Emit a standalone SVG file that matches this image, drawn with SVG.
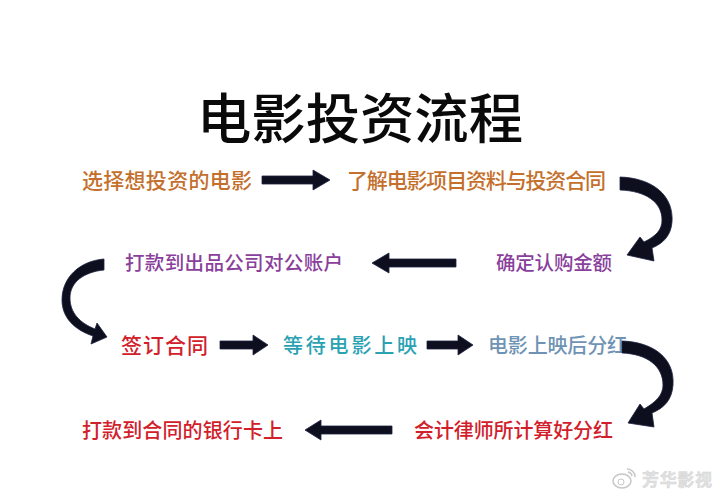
<svg xmlns="http://www.w3.org/2000/svg" width="728" height="503" viewBox="0 0 728 503">
<style>
.t{font-family:"Noto Sans CJK SC","Noto Sans CJK JP",sans-serif;font-weight:500}
.title{font-family:"Noto Sans CJK SC","Noto Sans CJK JP",sans-serif;font-weight:500;font-size:54px;fill:#0a0a0a}
.arr{fill:#0e0f1e;stroke:#1c2240;stroke-width:0.8}
.o{fill:#c46f2c}.p{fill:#8a3f9c}.r{fill:#d2202b}.c{fill:#2aa2b4}.b{fill:#6f93b4}
</style>
<rect width="728" height="503" fill="#ffffff"/>
<text class="title" x="197" y="139" textLength="326" lengthAdjust="spacingAndGlyphs">电影投资流程</text>
<g id="n1"><text class="t o" x="82" y="188" font-size="21" textLength="170">选择想投资的电影</text></g>
<g id="n2"><text class="t o" x="347" y="188" font-size="21" textLength="259">了解电影项目资料与投资合同</text></g>
<g id="n3"><text class="t p" x="496" y="270" font-size="19.5" textLength="116">确定认购金额</text></g>
<g id="n4"><text class="t p" x="125" y="270" font-size="19.5" textLength="218">打款到出品公司对公账户</text></g>
<g id="n5"><text class="t r" x="121" y="353" font-size="21" textLength="87">签订合同</text></g>
<g id="n6"><text class="t c" x="283" y="353" font-size="20" textLength="134">等待电影上映</text></g>
<g id="n7"><text class="t b" x="488" y="353" font-size="20" textLength="139">电影上映后分红</text></g>
<g id="n8"><text class="t r" x="414" y="438" font-size="20" textLength="199">会计律师所计算好分红</text></g>
<g id="n9"><text class="t r" x="82" y="438" font-size="20" textLength="201">打款到合同的银行卡上</text></g>
<g id="connectors">
<path class="arr" d="M262,176 L313,176 L313,170 L330,180 L313,190 L313,184 L262,184 Z"/>
<path class="arr" d="M456,259 L389,259 L389,253 L372,263 L389,273 L389,267 L456,267 Z"/>
<path class="arr" d="M220,341 L253,341 L253,335 L268,345 L253,355 L253,349 L220,349 Z"/>
<path class="arr" d="M427,341 L458,341 L458,335 L473,345 L458,355 L458,349 L427,349 Z"/>
<path class="arr" d="M392,426 L321,426 L321,420 L305,430 L321,440 L321,434 L392,434 Z"/>
<path class="arr" d="M620,177 C652,178 674,195 672,222 C671,235 664,243 652,248 L654,261 L627,255 L640,237 L644,242 C656,236 662,230 662,220 C662,202 646,191 620,190 Z"/>
<path class="arr" d="M104,259 C80,261 62,277 62,300 C62,318 75,330 93,336 L91,344 L107,337 L97,323 L95,329 C80,323 70,313 70,298 C70,282 84,272 104,270 Z"/>
<path class="arr" d="M622,341 C653,342 675,358 673,385 C672,400 664,408 652,413 L654,427 L628,423 L640,404 L644,409 C656,402 663,395 663,385 C663,366 647,354 622,353 Z"/>
</g>
<g id="watermark" opacity="0.55">
<ellipse cx="622" cy="481" rx="9" ry="7" fill="none" stroke="#9a9a9a" stroke-width="1.5"/>
<circle cx="621" cy="482" r="3" fill="none" stroke="#9a9a9a" stroke-width="1"/>
<path d="M627,469 A8,8 0 0 1 635,477 M628,472 A5,5 0 0 1 632,476" fill="none" stroke="#9a9a9a" stroke-width="1.5"/>
<text x="642" y="486" font-family="Noto Sans CJK SC,sans-serif" font-size="17" font-weight="700" fill="#c8c8c8" stroke="#b5b5b5" stroke-width="0.5" textLength="70">芳华影视</text>
</g>
</svg>
